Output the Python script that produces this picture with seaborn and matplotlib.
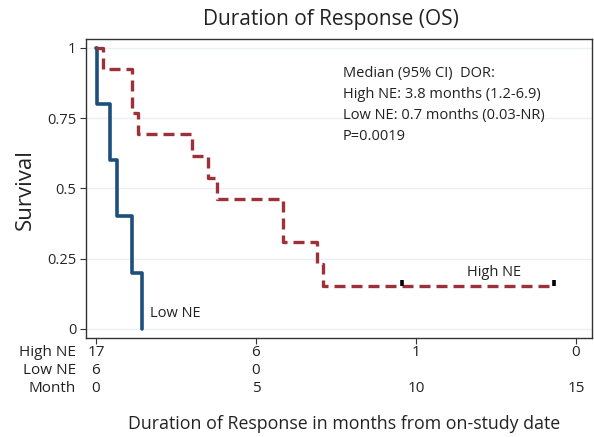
import matplotlib
matplotlib.use("Agg")
import matplotlib.pyplot as plt
import seaborn as sns
import pandas as pd

# Kaplan-Meier step estimates (months, survival probability)
low_time = [0.0, 0.03, 0.45, 0.66, 1.12, 1.45]
low_surv = [1.0, 0.8, 0.6, 0.4, 0.2, 0.0]
high_time = [0.0, 0.23, 1.12, 1.30, 3.00, 3.50, 3.78, 5.84, 6.90, 7.10, 14.3]
high_surv = [1.0, 0.923, 0.769, 0.692, 0.615, 0.538, 0.462, 0.308, 0.231, 0.154, 0.154]
high_censor_time = [9.56, 14.3]
high_censor_surv = [0.154, 0.154]

# Numbers at risk table
month_ticks = [0, 5, 10, 15]
risk_high = ["17", "6", "1", "0"]
risk_low = ["6", "0"]
y_ticks = [0, 0.25, 0.5, 0.75, 1]
y_ticklabels = ["0", "0.25", "0.5", "0.75", "1"]

sns.set_theme(style="white")
plt.rcParams["font.family"] = ["Open Sans", "DejaVu Sans"]

df = pd.concat([
    pd.DataFrame({"Month": low_time, "Survival": low_surv, "Group": "Low NE"}),
    pd.DataFrame({"Month": high_time, "Survival": high_surv, "Group": "High NE"}),
])

fig = plt.figure(figsize=(5.94, 4.37), dpi=100)
ax = fig.add_axes([86 / 594, 99 / 437, 506 / 594, 299 / 437])

for y in y_ticks:
    ax.axhline(y, color="#e8f1f4", lw=1.0, zorder=0)

sns.lineplot(data=df[df.Group == "Low NE"], x="Month", y="Survival",
             drawstyle="steps-post", color="#1d4f7c", lw=2.6, ax=ax,
             estimator=None, sort=False)
sns.lineplot(data=df[df.Group == "High NE"], x="Month", y="Survival",
             drawstyle="steps-post", color="#9e3039", lw=2.4, ax=ax,
             estimator=None, sort=False, dashes=False)
ax.lines[-1].set_dashes([3.3, 1.8])
ax.scatter(high_censor_time, [v + 0.008 for v in high_censor_surv],
           marker="|", s=14, color="black", linewidths=2.6, zorder=5)

ax.set_xlim(-0.31, 15.5)
ax.set_ylim(-0.032, 1.031)
ax.set_yticks(y_ticks)
ax.set_yticklabels(y_ticklabels, fontsize=10.5)
ax.set_xticks(month_ticks)
ax.set_xticklabels([])
ax.tick_params(axis="both", direction="out", length=4, width=0.8,
               color="#333333", left=True, bottom=True, pad=3)
for s in ax.spines.values():
    s.set_color("#333333")
    s.set_linewidth(1.0)

ax.set_xlabel("")
ax.set_ylabel("")
fig.text(25 / 594, 1 - 190 / 437, "Survival", rotation=90, ha="center",
         va="center", fontsize=16, color="#222222")
fig.text(331 / 594, 1 - 19 / 437, "Duration of Response (OS)", ha="center",
         va="center", fontsize=15, color="#222222")

ax.text(1.69, 0.055, "Low NE", fontsize=10.5, color="#222222", va="center")
ax.text(11.6, 0.20, "High NE", fontsize=10.5, color="#222222", va="center")
ax.text(7.72, 0.935,
        "Median (95% CI)  DOR:\nHigh NE: 3.8 months (1.2-6.9)\n"
        "Low NE: 0.7 months (0.03-NR)\nP=0.0019",
        fontsize=10.5, color="#222222", va="top", linespacing=1.55)

# Numbers at risk below the axis
rows = [("High NE", risk_high, 352), ("Low NE", risk_low, 370),
        ("Month", [str(m) for m in month_ticks], 388)]
for label, vals, ypx in rows:
    yf = 1 - ypx / 437
    fig.text(76 / 594, yf, label, ha="right", va="center", fontsize=11,
             color="#222222")
    for m, v in zip(month_ticks, vals):
        fig.text(ax.transData.transform((m, 0))[0] / fig.bbox.width, yf, v,
                 ha="center", va="center", fontsize=11, color="#222222")

fig.text(344 / 594, 1 - 424 / 437,
         "Duration of Response in months from on-study date",
         ha="center", va="center", fontsize=12.8, color="#222222")

fig.savefig("out.png", dpi=100)
